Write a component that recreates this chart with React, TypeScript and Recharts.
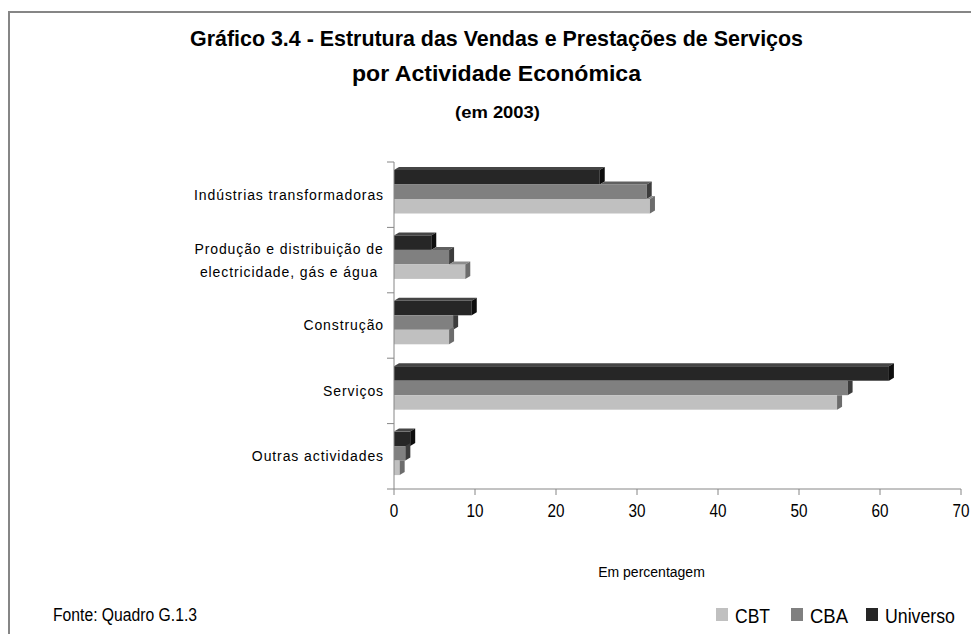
import { BarChart, Bar, XAxis, YAxis } from 'recharts'

const categories = [
  'Indústrias transformadoras',
  'Produção e distribuição de\nelectricidade, gás e água',
  'Construção',
  'Serviços',
  'Outras actividades',
]
const cbt = [31.6, 8.8, 6.8, 54.7, 0.7]
const cba = [31.2, 6.8, 7.3, 56.0, 1.4]
const universo = [25.4, 4.6, 9.6, 61.1, 2.0]
const xTicks = [0, 10, 20, 30, 40, 50, 60, 70]

const series = [
  { key: 'Universo', front: '#262626', top: '#454545', side: '#0e0e0e', upper: null as string | null },
  { key: 'CBA', front: '#808080', top: '#606060', side: '#3c3c3c', upper: 'Universo' },
  { key: 'CBT', front: '#c0c0c0', top: '#8c8c8c', side: '#6c6c6c', upper: 'CBA' },
]
const legendOrder = ['CBT', 'CBA', 'Universo']

const data = categories.map((name, i) => ({
  name,
  CBT: cbt[i],
  CBA: cba[i],
  Universo: universo[i],
}))

const SANS = '"Liberation Sans", Arial, sans-serif'
const AXIS = '#868686'
const DX = 5
const DY = -3

function make3D(s: (typeof series)[number]) {
  return (props: any) => {
    const { x, width, payload } = props
    const y = props.y - 3
    const h = props.height
    const val = payload[s.key]
    if (!width || width <= 0) return <g />
    const per = width / val
    const upperW = s.upper ? payload[s.upper] * per : -1
    const covered = s.upper !== null && upperW >= width + DX
    const x1 = x + width
    const pieces: any[] = []
    pieces.push(<rect key="f" x={x} y={y} width={width} height={h} fill={s.front} />)
    if (upperW < width) {
      const x0 = Math.max(x, x + upperW)
      pieces.push(
        <polygon
          key="t"
          points={`${x0},${y} ${x1},${y} ${x1 + DX},${y + DY} ${x0 + DX},${y + DY}`}
          fill={s.top}
        />
      )
    }
    const sidePts = covered
      ? `${x1},${y + h} ${x1},${y} ${x1 + DX},${y} ${x1 + DX},${y + h + DY}`
      : `${x1},${y + h} ${x1},${y} ${x1 + DX},${y + DY} ${x1 + DX},${y + h + DY}`
    pieces.push(<polygon key="s" points={sidePts} fill={s.side} />)
    return <g>{pieces}</g>
  }
}

function CategoryTick(props: any) {
  const { x, y, payload, index } = props
  const half = payload.offset || 32.7
  const lines = String(payload.value).split('\n')
  const lh = 23
  const startY = y - ((lines.length - 1) * lh) / 2
  const multi = lines.length > 1
  return (
    <g>
      <line x1={x} x2={x + 7} y1={y - half} y2={y - half} stroke={AXIS} />
      {index === categories.length - 1 && (
        <line x1={x} x2={x + 7} y1={y + half} y2={y + half} stroke={AXIS} />
      )}
      <text
        textAnchor={multi ? 'middle' : 'end'}
        fontFamily={SANS}
        fontSize={14}
        letterSpacing={0.9}
        fill="#000"
      >
        {lines.map((l, i) => (
          <tspan key={i} x={multi ? x - 98 : x - 3} y={startY + i * lh} dy="0.35em">
            {l}
          </tspan>
        ))}
      </text>
    </g>
  )
}

function ValueTick(props: any) {
  const { x, y, payload } = props
  return (
    <text
      transform={`translate(${x},${y + 20}) scale(0.85,1)`}
      textAnchor="middle"
      fontFamily={SANS}
      fontSize={18}
      fill="#000"
    >
      {payload.value}
    </text>
  )
}

// text squeezed to the narrow face of the original
function Narrow({ x, y, w, size, bold, anchor, children }: any) {
  return (
    <text
      x={x}
      y={y}
      textLength={w}
      lengthAdjust="spacingAndGlyphs"
      textAnchor={anchor || 'start'}
      fontFamily={SANS}
      fontSize={size}
      fontWeight={bold ? 'bold' : 'normal'}
      fill="#000"
    >
      {children}
    </text>
  )
}

const legendPos: Record<string, { sq: number; tx: number; w: number }> = {
  CBT: { sq: 716, tx: 735, w: 35 },
  CBA: { sq: 791, tx: 810, w: 38 },
  Universo: { sq: 866, tx: 885, w: 70 },
}

export default function App() {
  return (
    <div style={{ position: 'relative', width: 971, height: 634, overflow: 'hidden', background: '#fff' }}>
      <style>{'body{margin:0}'}</style>
      <div
        style={{
          position: 'absolute',
          left: 8,
          top: 11,
          width: 1000,
          height: 700,
          borderTop: `2px solid ${AXIS}`,
          borderLeft: `2px solid ${AXIS}`,
        }}
      />
      <div style={{ position: 'absolute', left: 0, top: 0 }}>
        <BarChart
          width={971}
          height={634}
          data={data}
          layout="vertical"
          margin={{ top: 162, right: 10, bottom: 115, left: 0 }}
          barGap={0}
          barSize={14.5}
        >
          <XAxis
            type="number"
            domain={[0, 70]}
            ticks={xTicks}
            interval={0}
            stroke={AXIS}
            tickSize={6}
            height={30}
            tick={<ValueTick />}
          />
          <YAxis
            type="category"
            dataKey="name"
            width={394}
            stroke={AXIS}
            tickLine={false}
            tickSize={7}
            tickMargin={0}
            interval={0}
            tick={<CategoryTick />}
          />
          {series.map(s => (
            <Bar key={s.key} dataKey={s.key} isAnimationActive={false} shape={make3D(s)} />
          ))}
        </BarChart>
      </div>
      <svg width={971} height={634} style={{ position: 'absolute', left: 0, top: 0, pointerEvents: 'none' }}>
        <Narrow x={496.5} y={46} w={613} size={22} bold anchor="middle">
          Gráfico 3.4 - Estrutura das Vendas e Prestações de Serviços
        </Narrow>
        <Narrow x={496.5} y={81} w={289} size={22} bold anchor="middle">
          por Actividade Económica
        </Narrow>
        <Narrow x={497.5} y={118} w={85} size={17} bold anchor="middle">
          (em 2003)
        </Narrow>
        <text x={651.5} y={577} textAnchor="middle" fontFamily={SANS} fontSize={14} fill="#000">
          Em percentagem
        </text>
        <Narrow x={53} y={621} w={144} size={17.5}>
          Fonte: Quadro G.1.3
        </Narrow>
        {legendOrder.map(k => {
          const s = series.find(v => v.key === k)!
          const p = legendPos[k]
          return (
            <g key={k}>
              <rect x={p.sq} y={608} width={12} height={13} fill={s.front} />
              <Narrow x={p.tx} y={623} w={p.w} size={21}>
                {k}
              </Narrow>
            </g>
          )
        })}
      </svg>
    </div>
  )
}
